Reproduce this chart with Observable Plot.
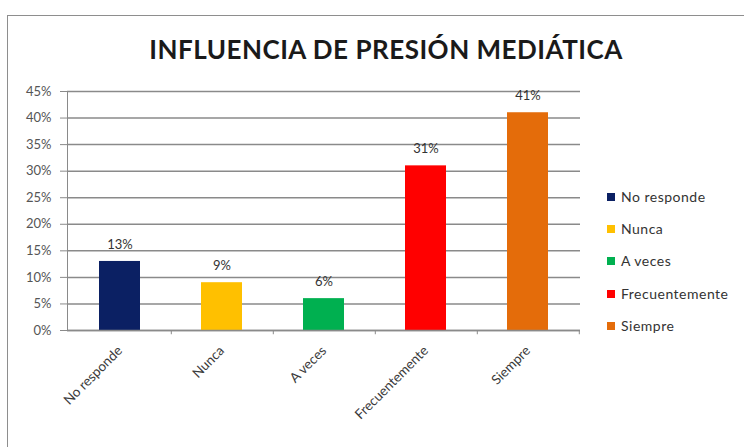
<!DOCTYPE html>
<html><head><meta charset="utf-8">
<script src="https://cdn.jsdelivr.net/npm/d3@7"></script>
<script src="https://cdn.jsdelivr.net/npm/@observablehq/plot@0.6"></script>
<style>
body{margin:0;background:#fff;}
#wrap{position:relative;width:744px;height:447px;overflow:hidden;font-family:Lato,sans-serif;background:#fff;}
#frame{position:absolute;left:7px;top:15px;width:800px;height:500px;border:1px solid #8e8e8e;box-sizing:border-box;}
#title{position:absolute;left:0;width:772px;top:34px;text-align:center;font-weight:bold;font-size:26px;letter-spacing:0.5px;line-height:30px;color:#1a1a1a;}
#chart{position:absolute;left:0;top:0;}
.leg{position:absolute;left:607px;font-size:14px;letter-spacing:0.5px;line-height:16px;color:#333;white-space:nowrap;}
.leg span{display:inline-block;width:8px;height:8px;margin-right:6px;vertical-align:1px;}
</style>
</head><body>
<div id="wrap">
  <div id="frame"></div>
  <div id="title"></div>
  <div id="chart"></div>
</div>
<script>
const title = "INFLUENCIA DE PRESIÓN MEDIÁTICA";
const categories = ["No responde", "Nunca", "A veces", "Frecuentemente", "Siempre"];
const values = [0.13, 0.09, 0.06, 0.31, 0.41];
const colors = ["#0B2063", "#FFC000", "#00B050", "#FF0000", "#E46C0A"];
const yTicks = [0, 0.05, 0.10, 0.15, 0.20, 0.25, 0.30, 0.35, 0.40, 0.45];

const data = categories.map((c, i) => ({cat: c, value: values[i]}));
const pct = d => Math.round(d * 100) + "%";

document.getElementById("title").textContent = title;

const chart = Plot.plot({
  width: 744, height: 447,
  marginLeft: 67, marginRight: 164, marginTop: 91, marginBottom: 117,
  x: {domain: categories, paddingInner: 0.6, paddingOuter: 0.3, label: null},
  y: {domain: [0, 0.45], label: null},
  color: {domain: categories, range: colors},
  style: {fontFamily: "Lato, sans-serif", fontSize: "13px", color: "#555", background: "transparent", overflow: "visible"},
  marks: [
    Plot.gridY(yTicks, {stroke: "#8a8a8a", strokeOpacity: 1, strokeWidth: 1.5}),
    Plot.axisY(yTicks, {tickFormat: pct, tickSize: 7, tickPadding: 9, stroke: "#8a8a8a", fill: "#555", label: null}),
    Plot.frame({anchor: "left", stroke: "#8a8a8a"}),
    Plot.barY(data, {x: "cat", y: "value", fill: "cat"}),
    Plot.ruleY([0], {stroke: "#8a8a8a", strokeWidth: 1.3}),
    Plot.ruleX(categories, {x: d => d, y1: 0, y2: -0.008, dx: 51.3, stroke: "#8a8a8a"}),
    Plot.axisX({tickSize: 0, tickRotate: -45, tickPadding: 18, dx: 0, fontSize: 13.5, label: null, fill: "#3a3a3a"}),
    Plot.text(data, {x: "cat", y: "value", text: d => pct(d.value), dy: -17, fontSize: 13, fill: "#333"})
  ]
});
document.getElementById("chart").appendChild(chart);

const wrap = document.getElementById("wrap");
categories.forEach((c, i) => {
  const el = document.createElement("div");
  el.className = "leg";
  el.style.top = (189 + i * 32.2) + "px";
  const sw = document.createElement("span");
  sw.style.background = colors[i];
  el.appendChild(sw);
  el.appendChild(document.createTextNode(c));
  wrap.appendChild(el);
});
</script>
</body></html>
